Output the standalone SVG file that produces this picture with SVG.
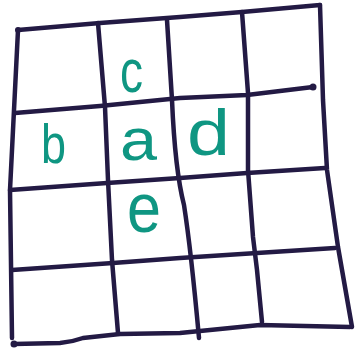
<svg xmlns="http://www.w3.org/2000/svg" width="359" height="349" viewBox="0 0 359 349">
<style>
.ln{fill:none;stroke:#231a44;stroke-width:4.5;stroke-linecap:round;stroke-linejoin:round}
.dot{fill:#231a44}
.lt{font-family:"Liberation Sans","DejaVu Sans",sans-serif;fill:#0f9682}
</style>
<rect width="359" height="349" fill="#ffffff"/>
<g id="grid">
<path class="ln" d="M18,30 L100,23 L180,17 L242,12 L320,5"/>
<path class="ln" d="M18,30 Q14,110 10,190 Q11,260 12,338"/>
<path class="ln" d="M14,344 L60,343 Q72,342 83,338 L120,334 L180,333 L260,325 L350,327"/>
<path class="ln" d="M320,5 L323,100 L327,170 L338,247 L352,327"/>
<path class="ln" d="M15,113 L100,106 L180,98 L247,95 L313,87"/>
<path class="ln" d="M10,190 L107,183 L180,178 L247,173 L325,168"/>
<path class="ln" d="M12,270 L113,263 L180,258 L257,253 L335,248"/>
<path class="ln" d="M98,23 L105,107 L108,180 L112,260 L118,333"/>
<path class="ln" d="M167,20 L172,100 Q175,170 184,205 Q191,250 199,338"/>
<path class="ln" d="M242,12 L248,93 L248,170 L253,237 L257,270 L262,322"/>
<circle class="dot" cx="14" cy="344" r="3.5"/>
<circle class="dot" cx="313" cy="87" r="3.5"/>
<circle class="dot" cx="18" cy="30" r="3"/>
</g>
<g id="cell-c"><text class="lt" x="120" y="92" font-size="62" textLength="23" lengthAdjust="spacingAndGlyphs">c</text></g>
<g id="cell-b"><text class="lt" x="41" y="163" font-size="56" textLength="25" lengthAdjust="spacingAndGlyphs">b</text></g>
<g id="cell-a"><text class="lt" x="120" y="160" font-size="60" textLength="37" lengthAdjust="spacingAndGlyphs">a</text></g>
<g id="cell-d"><text class="lt" x="187" y="155" font-size="64" textLength="43" lengthAdjust="spacingAndGlyphs">d</text></g>
<g id="cell-e"><text class="lt" x="127" y="232" font-size="70" textLength="34" lengthAdjust="spacingAndGlyphs">e</text></g>
</svg>
